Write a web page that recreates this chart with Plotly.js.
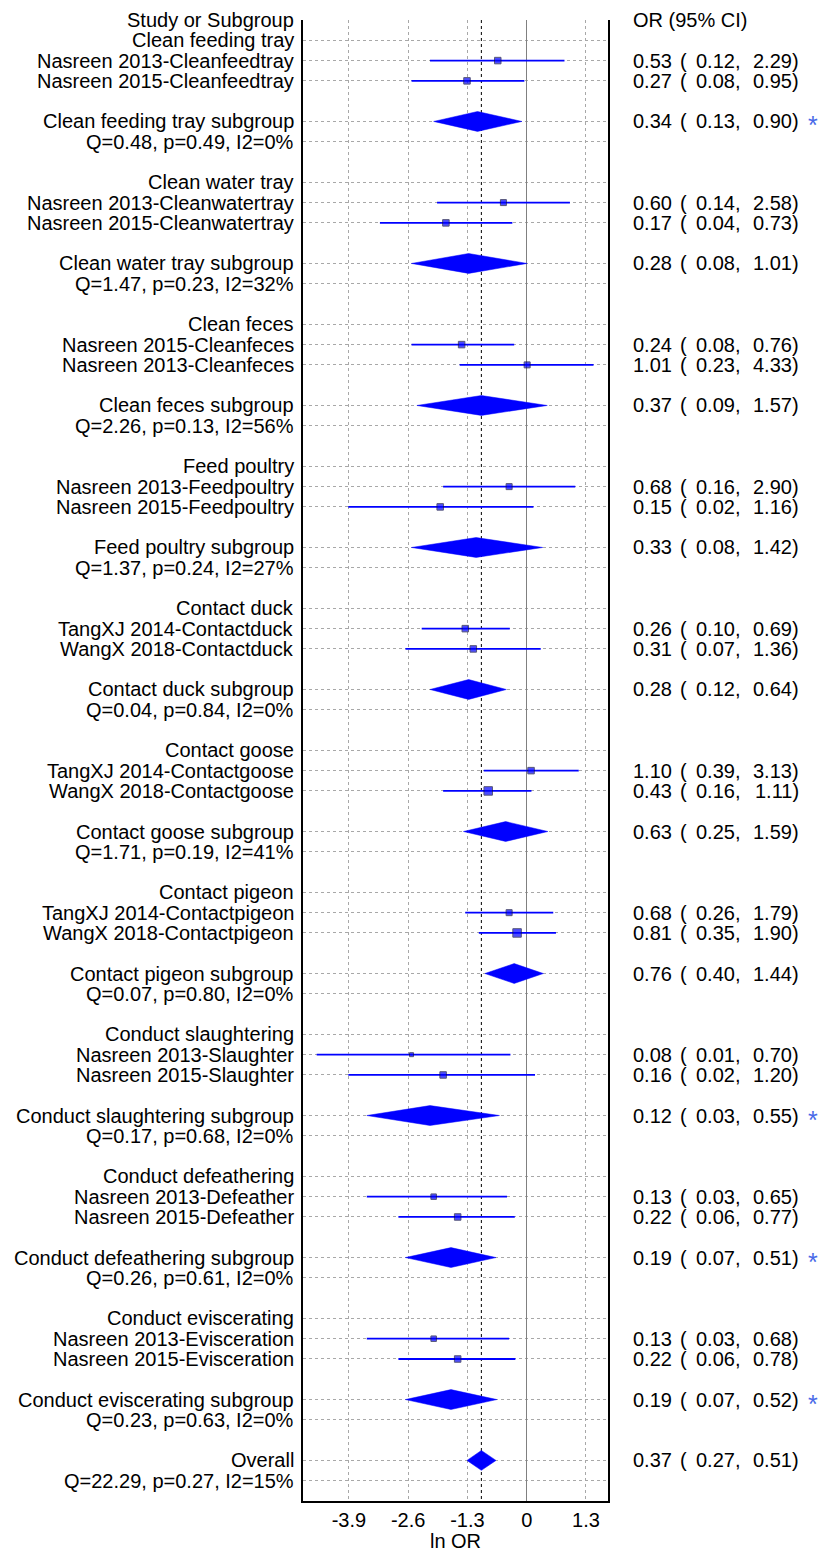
<!DOCTYPE html>
<html>
<head>
<meta charset="utf-8">
<script src="https://cdn.plot.ly/plotly-3.0.1.min.js"></script>
<style>html,body{margin:0;padding:0;background:#fff;}#chart{width:820px;height:1552px;}</style>
</head>
<body>
<div id="chart"></div>
<script>
// ---------------- DATA ----------------
const groupNames = ['Clean feeding tray','Clean water tray','Clean feces','Feed poultry','Contact duck',
  'Contact goose','Contact pigeon','Conduct slaughtering','Conduct defeathering','Conduct eviscerating'];
const studyLabels = [
  'Nasreen 2013-Cleanfeedtray','Nasreen 2015-Cleanfeedtray',
  'Nasreen 2013-Cleanwatertray','Nasreen 2015-Cleanwatertray',
  'Nasreen 2015-Cleanfeces','Nasreen 2013-Cleanfeces',
  'Nasreen 2013-Feedpoultry','Nasreen 2015-Feedpoultry',
  'TangXJ 2014-Contactduck','WangX 2018-Contactduck',
  'TangXJ 2014-Contactgoose','WangX 2018-Contactgoose',
  'TangXJ 2014-Contactpigeon','WangX 2018-Contactpigeon',
  'Nasreen 2013-Slaughter','Nasreen 2015-Slaughter',
  'Nasreen 2013-Defeather','Nasreen 2015-Defeather',
  'Nasreen 2013-Evisceration','Nasreen 2015-Evisceration'];
const studyOR = [0.53,0.27, 0.60,0.17, 0.24,1.01, 0.68,0.15, 0.26,0.31, 1.10,0.43, 0.68,0.81, 0.08,0.16, 0.13,0.22, 0.13,0.22];
const studyLo = [0.12,0.08, 0.14,0.04, 0.08,0.23, 0.16,0.02, 0.10,0.07, 0.39,0.16, 0.26,0.35, 0.01,0.02, 0.03,0.06, 0.03,0.06];
const studyHi = [2.29,0.95, 2.58,0.73, 0.76,4.33, 2.90,1.16, 0.69,1.36, 3.13,1.11, 1.79,1.90, 0.70,1.20, 0.65,0.77, 0.68,0.78];
const studyWeight = [6.5,6.5, 6,6.5, 6.5,6, 6,6.5, 6.5,6.5, 6.5,8.5, 6,8.5, 4,6.5, 5.5,6.5, 5.5,6.5];
const subOR = [0.34,0.28,0.37,0.33,0.28,0.63,0.76,0.12,0.19,0.19];
const subLo = [0.13,0.08,0.09,0.08,0.12,0.25,0.40,0.03,0.07,0.07];
const subHi = [0.90,1.01,1.57,1.42,0.64,1.59,1.44,0.55,0.51,0.52];
const subStar = [true,false,false,false,false,false,false,true,true,true];
const hetText = ['Q=0.48, p=0.49, I2=0%','Q=1.47, p=0.23, I2=32%','Q=2.26, p=0.13, I2=56%','Q=1.37, p=0.24, I2=27%',
  'Q=0.04, p=0.84, I2=0%','Q=1.71, p=0.19, I2=41%','Q=0.07, p=0.80, I2=0%','Q=0.17, p=0.68, I2=0%',
  'Q=0.26, p=0.61, I2=0%','Q=0.23, p=0.63, I2=0%'];
const overallOR = 0.37, overallLo = 0.27, overallHi = 0.51;
const overallHet = 'Q=22.29, p=0.27, I2=15%';
const xTickVals = [-3.9,-2.6,-1.3,0,1.3];
const xTickText = ['-3.9','-2.6','-1.3','0','1.3'];

// ---------------- LAYOUT HELPERS ----------------
const W = 820, H = 1552;
const M = {l:303, r:212, t:20, b:51};
const plotW = W - M.l - M.r;
const px = p => (p - M.l) / plotW;           // pixel -> paper
const FONT = 'Liberation Sans, Arial, sans-serif';
const NROWS = 73;
const ln = Math.log;
const f2 = v => v.toFixed(2);

const traces = [];
const ann = [];
const gridRows = [];

function leftLabel(row, text){
  ann.push({xref:'paper', yref:'y', x:px(296), y:row, xanchor:'right', yanchor:'middle',
    text:text, showarrow:false, font:{family:FONT, size:20, color:'#000'}});
}
function rightCols(row, est, lo, hi, star){
  const base = {xref:'paper', yref:'y', y:row, yanchor:'middle', showarrow:false, font:{family:FONT, size:20, color:'#000'}};
  ann.push(Object.assign({}, base, {x:px(631), xanchor:'left', text:f2(est)}));
  ann.push(Object.assign({}, base, {x:px(678), xanchor:'left', text:'('}));
  ann.push(Object.assign({}, base, {x:px(742), xanchor:'right', text:f2(lo)+','}));
  ann.push(Object.assign({}, base, {x:px(801), xanchor:'right', text:f2(hi)+')'}));
  if(star) ann.push(Object.assign({}, base, {x:px(813), xanchor:'center', yshift:-4, text:'*', font:{family:FONT, size:25, color:'#4a6ae8'}}));
}

// header
leftLabel(0, 'Study or Subgroup');
ann.push({xref:'paper', yref:'y', x:px(631), y:0, xanchor:'left', yanchor:'middle', text:'OR (95% CI)', showarrow:false, font:{family:FONT, size:20, color:'#000'}});

// overall reference line
traces.push({type:'scatter', mode:'lines', x:[ln(overallOR), ln(overallOR)], y:[0, NROWS],
  line:{color:'#000', width:1, dash:'dot'}, hoverinfo:'skip', showlegend:false});

const ciX = [], ciY = [], mX = [], mY = [], mS = [];
groupNames.forEach((g, gi) => {
  const base = 1 + 7*gi;
  leftLabel(base, g); gridRows.push(base);
  for(let k=0;k<2;k++){
    const i = 2*gi + k, row = base + 1 + k;
    leftLabel(row, studyLabels[i]); gridRows.push(row);
    rightCols(row, studyOR[i], studyLo[i], studyHi[i], false);
    ciX.push(ln(studyLo[i]), ln(studyHi[i]), null); ciY.push(row, row, null);
    mX.push(ln(studyOR[i])); mY.push(row); mS.push(studyWeight[i]);
  }
  const srow = base + 4;
  leftLabel(srow, g + ' subgroup'); gridRows.push(srow);
  leftLabel(srow + 1, hetText[gi]); gridRows.push(srow + 1);
  rightCols(srow, subOR[gi], subLo[gi], subHi[gi], subStar[gi]);
  traces.push({type:'scatter', mode:'lines', fill:'toself', fillcolor:'#0000ff',
    x:[ln(subLo[gi]), ln(subOR[gi]), ln(subHi[gi]), ln(subOR[gi]), ln(subLo[gi])],
    y:[srow, srow-0.49, srow, srow+0.49, srow], line:{color:'#0000ff', width:0.5},
    hoverinfo:'skip', showlegend:false});
});
// overall
const orow = 71;
leftLabel(orow, 'Overall'); gridRows.push(orow);
leftLabel(orow+1, overallHet); gridRows.push(orow+1);
rightCols(orow, overallOR, overallLo, overallHi, false);
traces.push({type:'scatter', mode:'lines', fill:'toself', fillcolor:'#0000ff',
  x:[ln(overallLo), ln(overallOR), ln(overallHi), ln(overallOR), ln(overallLo)],
  y:[orow, orow-0.49, orow, orow+0.49, orow], line:{color:'#0000ff', width:0.5},
  hoverinfo:'skip', showlegend:false});

traces.push({type:'scatter', mode:'lines', x:ciX, y:ciY, line:{color:'#0000ff', width:1.8},
  connectgaps:false, hoverinfo:'skip', showlegend:false});
traces.push({type:'scatter', mode:'markers', x:mX, y:mY,
  marker:{symbol:'square', size:mS, color:'#0000ff', line:{color:'#101040', width:1}},
  hoverinfo:'skip', showlegend:false});

const layout = {
  width:W, height:H, margin:M, paper_bgcolor:'#fff', plot_bgcolor:'#fff',
  showlegend:false, font:{family:FONT, size:20, color:'#000'},
  xaxis:{range:[(303-526.7)/45.6, (608-526.7)/45.6], tickvals:xTickVals, ticktext:xTickText,
    showgrid:true, gridcolor:'#a8a8a8', griddash:'dot', gridwidth:1,
    zeroline:true, zerolinecolor:'#808080', zerolinewidth:1.5,
    showline:true, linecolor:'#000', linewidth:2, mirror:false, ticks:'',
    tickfont:{family:FONT, size:20, color:'#000'},
    title:{text:'ln OR', font:{family:FONT, size:20, color:'#000'}, standoff:4}, fixedrange:true},
  yaxis:{range:[NROWS, 0], tickvals:gridRows, showticklabels:false, ticks:'',
    showgrid:true, gridcolor:'#a8a8a8', griddash:'dot', gridwidth:1, zeroline:false,
    showline:true, linecolor:'#000', linewidth:2, mirror:true, fixedrange:true},
  annotations:ann
};
Plotly.newPlot('chart', traces, layout, {displayModeBar:false, staticPlot:true});
</script>
</body>
</html>
